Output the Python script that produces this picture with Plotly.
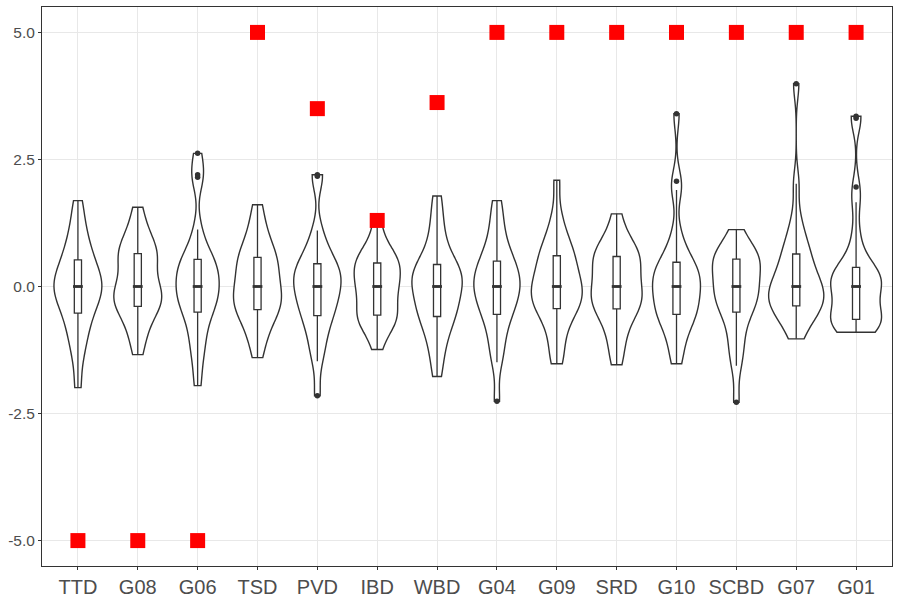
import numpy as np
import plotly.graph_objects as go

# category order along the x axis
groups = ["TTD", "G08", "G06", "TSD", "PVD", "IBD", "WBD",
          "G04", "G09", "SRD", "G10", "SCBD", "G07", "G01"]

ttd = [-1.99, -1.45, -1.15, -0.95, -0.8, -0.6, -0.5, -0.4, -0.3, -0.2, -0.12, -0.05, 0.0,
       0.06, 0.13, 0.2, 0.3, 0.4, 0.5, 0.6, 0.75, 0.9, 1.1, 1.35, 1.69]
g08 = [-1.34, -1.05, -0.85, -0.68, -0.53, -0.43, -0.38, -0.3, -0.25, -0.2, -0.12, -0.05, 0.0,
       0.1, 0.25, 0.4, 0.5, 0.6, 0.63, 0.7, 0.8, 0.9, 1.05, 1.25, 1.56]
g06 = [-1.95, -1.5, -1.2, -1.0, -0.8, -0.55, -0.49, -0.4, -0.3, -0.2, -0.1, -0.05, 0.0,
       0.1, 0.2, 0.3, 0.38, 0.45, 0.51, 0.6, 0.8, 1.12, 2.15, 2.2, 2.62]
tsd = [-1.40, -1.1, -0.9, -0.74, -0.6, -0.5, -0.44, -0.38, -0.3, -0.22, -0.15, -0.08, 0.0,
       0.1, 0.2, 0.3, 0.4, 0.5, 0.56, 0.62, 0.75, 0.9, 1.05, 1.3, 1.61]
pvd = [-2.15, -1.47, -1.2, -1.0, -0.8, -0.62, -0.56, -0.45, -0.35, -0.25, -0.15, -0.07, 0.0,
       0.07, 0.15, 0.22, 0.3, 0.38, 0.43, 0.5, 0.65, 0.85, 1.10, 2.17, 2.2]
ibd = [-1.24, -0.95, -0.82, -0.72, -0.65, -0.6, -0.55, -0.45, -0.35, -0.25, -0.15, -0.08, 0.0,
       0.08, 0.15, 0.22, 0.3, 0.38, 0.45, 0.5, 0.56, 0.64, 0.75, 0.92, 1.28]
wbd = [-1.77, -1.4, -1.15, -0.95, -0.78, -0.62, -0.58, -0.48, -0.38, -0.28, -0.18, -0.08, 0.0,
       0.06, 0.12, 0.2, 0.28, 0.35, 0.41, 0.5, 0.65, 0.85, 1.1, 1.4, 1.78]
g04 = [-2.26, -1.49, -1.25, -1.0, -0.8, -0.6, -0.53, -0.42, -0.32, -0.22, -0.13, -0.06, 0.0,
       0.07, 0.14, 0.22, 0.3, 0.4, 0.48, 0.56, 0.7, 0.88, 1.1, 1.38, 1.69]
g09 = [-1.52, -1.3, -1.0, -0.8, -0.6, -0.48, -0.42, -0.35, -0.28, -0.2, -0.13, -0.06, 0.0,
       0.08, 0.16, 0.25, 0.35, 0.48, 0.59, 0.65, 0.75, 0.9, 1.1, 1.4, 2.09]
srd = [-1.54, -1.25, -1.0, -0.8, -0.62, -0.5, -0.42, -0.36, -0.3, -0.22, -0.15, -0.07, 0.0,
       0.1, 0.2, 0.3, 0.4, 0.5, 0.58, 0.62, 0.68, 0.76, 0.88, 1.08, 1.43]
g10 = [-1.52, -1.25, -1.0, -0.8, -0.65, -0.58, -0.54, -0.45, -0.35, -0.25, -0.15, -0.07, 0.0,
       0.07, 0.14, 0.22, 0.3, 0.4, 0.47, 0.5, 0.75, 1.05, 1.9, 2.07, 3.40]
scbd = [-2.28, -1.56, -1.3, -1.05, -0.85, -0.6, -0.47, -0.4, -0.32, -0.24, -0.16, -0.08, 0.0,
        0.08, 0.16, 0.25, 0.35, 0.45, 0.53, 0.56, 0.6, 0.65, 0.72, 0.85, 1.12]
g07 = [-1.03, -0.82, -0.66, -0.55, -0.47, -0.41, -0.37, -0.3, -0.24, -0.17, -0.1, -0.05, 0.0,
       0.08, 0.16, 0.25, 0.35, 0.48, 0.62, 0.7, 0.85, 1.05, 1.35, 2.02, 3.99]
g01 = [-0.90, -0.86, -0.82, -0.77, -0.72, -0.68, -0.66, -0.64, -0.55, -0.45, -0.35, -0.25, -0.15,
       -0.07, 0.0, 0.05, 0.1, 0.15, 0.2, 0.26, 0.31, 0.35, 0.45, 0.7, 1.05, 1.66, 1.96, 3.31, 3.35]

samples = [ttd, g08, g06, tsd, pvd, ibd, wbd, g04, g09, srd, g10, scbd, g07, g01]

# red square reference values per group
ref_values = [-5, -5, -5, 5, 3.5, 1.3, 3.62, 5, 5, 5, 5, 5, 5, 5]

# violin widths (category units), ggplot "area" scaling look
widths = [0.80, 0.80, 0.72, 0.80, 0.79, 0.77, 0.84, 0.77, 0.85, 0.85, 0.80, 0.80, 0.92, 0.85]

INK = "#333333"
GRID = "#E8E8E8"
BOX_W = 0.12  # box width in category units
BW_SCALE = 0.85  # slightly narrower kernel than plain nrd0 on these few points

fig = go.Figure()

for name, vals, w in zip(groups, samples, widths):
    arr = np.array(vals)
    # R's bw.nrd0 so the shapes are close to ggplot's
    iqr = np.percentile(arr, 75) - np.percentile(arr, 25)
    bw = BW_SCALE * 0.9 * min(arr.std(ddof=1), iqr / 1.34) * len(arr) ** -0.2
    fig.add_trace(go.Violin(
        x=[name] * len(vals),
        y=vals,
        name=name,
        width=w,
        bandwidth=bw,
        spanmode="hard",
        scalemode="width",
        fillcolor="white",
        line=dict(color=INK, width=1.4),
        box=dict(visible=True, width=BOX_W / w, fillcolor="white",
                 line=dict(color=INK, width=1.3)),
        meanline=dict(visible=False),
        points="outliers",
        jitter=0,
        pointpos=0,
        marker=dict(color=INK, size=5.5, line=dict(width=0)),
        showlegend=False,
        hoverinfo="y",
    ))

# thicker median bars, like ggplot's fatten=2
fig.add_trace(go.Scatter(
    x=groups,
    y=[float(np.median(s)) for s in samples],
    mode="markers",
    marker=dict(symbol="line-ew", size=7, line=dict(color=INK, width=2.8)),
    showlegend=False,
    hoverinfo="skip",
))

fig.add_trace(go.Scatter(
    x=groups,
    y=ref_values,
    mode="markers",
    marker=dict(symbol="square", size=15, color="red"),
    showlegend=False,
))

fig.update_layout(
    width=900,
    height=600,
    margin=dict(l=42, r=8, t=7, b=34),
    paper_bgcolor="white",
    plot_bgcolor="white",
    violinmode="overlay",
    font=dict(family="Liberation Sans, Arial, sans-serif", color="#4D4D4D"),
)

fig.update_xaxes(
    type="category",
    categoryorder="array",
    categoryarray=groups,
    range=[-0.6, 13.6],
    automargin=False,
    showgrid=True,
    gridcolor=GRID,
    gridwidth=1.3,
    showline=True,
    linecolor=INK,
    linewidth=1,
    mirror=True,
    ticks="outside",
    ticklen=3,
    tickcolor=INK,
    tickfont=dict(size=20, color="#4D4D4D"),
    zeroline=False,
)

fig.update_yaxes(
    range=[-5.5, 5.5],
    tickvals=[-5, -2.5, 0, 2.5, 5],
    ticktext=["-5.0", "-2.5", "0.0", "2.5", "5.0"],
    automargin=False,
    showgrid=True,
    gridcolor=GRID,
    gridwidth=1.3,
    showline=True,
    linecolor=INK,
    linewidth=1,
    mirror=True,
    ticks="outside",
    ticklen=3,
    tickcolor=INK,
    tickfont=dict(size=15.5, color="#4D4D4D"),
    zeroline=False,
)

# drop the browser's default 8px body margin so the figure sits at 0,0
fig.write_html("out.html", config={"displayModeBar": False},
               post_script="document.body.style.margin = '0';")
